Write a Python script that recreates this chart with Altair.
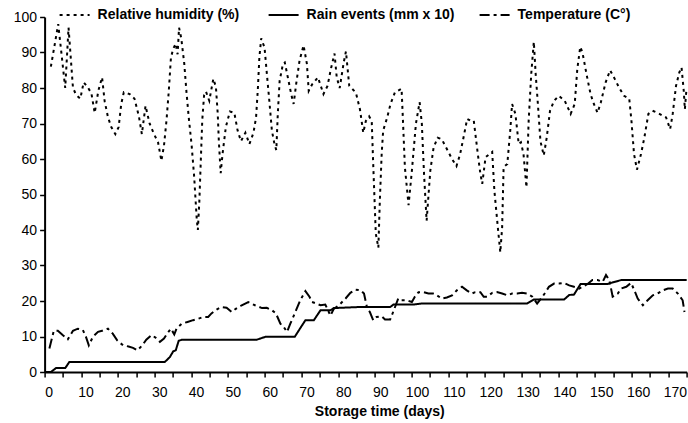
import altair as alt
import pandas as pd

# ---- data ----
rh_day = [0.6, 2.6, 4.5, 5.4, 6.6, 7.5, 8.6, 9.5, 10.5, 11.6, 12.5, 13.5, 14.5, 15.2, 16.1, 17, 18.1, 19, 19.7, 20.4,
          22, 23.3, 24.5, 25.3, 26.3, 27.4, 28.6, 29.7, 30.6, 31.3, 32, 32.6, 33.2, 33.8, 34.5, 35, 35.4, 36, 36.8, 37.4,
          38, 38.8, 39.5, 40.2, 40.5, 40.9, 41.3, 41.7, 42.2, 42.7, 43.6, 44.7, 45.4, 45.9, 46.2, 46.7, 47.2, 48.1, 49.2, 50.4,
          51.3, 52.2, 53.4, 54.5, 55.6, 56.3, 56.8, 57.2, 57.7, 58.6, 59.2, 59.9, 60.6, 61.3, 61.8, 62.2, 62.7, 63.6, 64.1, 65,
          65.9, 66.5, 67.2, 68.1, 69.2, 70.1, 70.6, 71.5, 73.1, 74.6, 75.7, 76.6, 77.6, 78.2, 79, 80.1, 80.7, 81.6, 83.4, 84.5,
          85.4, 86.1, 87, 87.7, 88.1, 88.8, 89.5, 89.9, 90.4, 90.8, 91.9, 92.8, 94, 95.8, 96.1, 96.7, 97.7, 98.6, 99.7, 100.7,
          101.3, 101.9, 102.6, 103.6, 104.5, 105.6, 106.7, 108.1, 109.5, 110.7, 111.7, 112.8, 113.6, 114.5, 115.4, 116.5, 117.2, 117.7, 118.6, 120.4,
          121, 122, 122.6, 123.1, 123.5, 124.5, 125.3, 125.8, 126.7, 127.6, 128.2, 128.9, 129.7, 130.3, 131, 131.7, 132.2, 132.8, 133.5, 134.4,
          135.2, 136.1, 137.2, 138.5, 140.1, 141.7, 142.8, 143.5, 144.3, 144.9, 146.1, 147.1, 148, 149, 149.9, 151.2, 152.4, 153.7, 154.9, 156.2,
          157.6, 158.2, 158.9, 159.7, 160.8, 161.7, 162.8, 163.9, 165.3, 166.7, 167.6, 168.7, 169.4, 170.3, 171.2, 171.8, 172.4, 172.7, 173.1]
rh_val = [86, 98, 80, 97, 80, 78, 77, 81.6, 80.4, 78.5, 73, 79.3, 83, 76.3, 71.8, 69, 67, 69, 75.5, 78.8,
          78.3, 77, 72, 67, 75, 70, 67, 64.7, 59.5, 63.7, 71, 79, 88.6, 91, 92.5, 89.5, 97, 94, 87, 79,
          72, 64, 55, 43, 40, 48, 59.5, 71, 78, 79, 76.4, 82.6, 80.3, 72.7, 65, 56, 61.4, 69, 73.4, 73,
          68, 65, 67.4, 64.2, 67.4, 71.7, 80, 88.6, 94, 91.4, 84.4, 76.4, 68, 64.2, 62.5, 72.7, 82, 86.8, 87.2, 82.6,
          78, 75.5, 81.2, 87.7, 92, 86.8, 79.2, 81, 83, 78.3, 80.6, 85.3, 89.7, 83, 80, 87.2, 90.3, 80.6, 78.7, 74,
          67.4, 70.7, 72, 70.7, 58.6, 39, 35, 48.3, 61.4, 68, 71.7, 75.5, 78.8, 79.8, 72.7, 57.7, 47, 56.7, 70, 76,
          70, 55.8, 42.6, 56.7, 63.3, 66, 65.6, 62.8, 60, 58, 61.4, 67, 71.3, 70.8, 70.8, 61.4, 55.8, 53, 60.5, 62,
          51, 40, 33.7, 40.7, 57.7, 58.6, 68, 75.5, 72.7, 64.2, 64.7, 61.4, 52, 70.8, 84, 93, 84, 75.5, 65, 61,
          66, 73.6, 76.4, 77.8, 76.4, 72.7, 75.5, 85.3, 91.6, 90, 83.4, 78.3, 75.5, 73, 76, 81.6, 85, 82.5, 80, 77.8,
          77, 70.8, 61.4, 57, 61.4, 66, 72.7, 73.6, 73, 72.2, 71.7, 68.4, 72.7, 80.6, 84.4, 85.8, 79.2, 74, 79.2]

rain_day = [-1, 0.6, 2, 4.5, 5.6, 31.5, 32.9, 33.8, 34.5, 35.3, 36.2, 56.5, 58.8, 66.8, 67.9, 69.7, 72, 73.8, 76.5, 77.4,
            84.2, 92.7, 93.6, 99, 101.3, 129.9, 131.7, 139.9, 141.3, 142.6, 144.4, 151.7, 155.4, 173.2]
rain_val = [0, 0, 1.1, 1.1, 2.8, 2.8, 4.2, 5.8, 6.1, 8.8, 9.1, 9.1, 9.9, 9.9, 11.7, 14.6, 14.6, 17.4, 17.4, 18,
            18.3, 18.3, 19, 19, 19.3, 19.3, 20.4, 20.4, 21.7, 21.8, 24.8, 24.8, 25.9, 25.9]

temp_day = [0.2, 1.4, 2.5, 3.8, 5.2, 6.6, 7.9, 9.3, 10.2, 10.9, 12, 13.4, 14.5, 16.1, 17.4, 18.6, 20.2, 21.7, 22.9, 24.1,
            25.4, 26.5, 27.9, 29, 30.2, 31.3, 32.3, 33.2, 34.1, 34.7, 36.1, 37.7, 39.2, 40.6, 42, 43.3, 44.2, 45.6, 46.9, 48.3,
            49.7, 50.8, 52.4, 54.2, 56, 57.9, 59.2, 60.6, 61.7, 62.9, 63.8, 64.7, 65.6, 66.8, 68.3, 69.7, 70.8, 71.5, 72.6, 73.8,
            75.1, 76.5, 77.4, 78.8, 80.6, 81.9, 83.3, 84.7, 85.6, 86.5, 87.2, 88.1, 89, 90.4, 91.3, 92.7, 93.7, 94.9, 95.8, 97.2,
            98.6, 99.4, 100.4, 101.7, 103.1, 104.4, 105.4, 106.7, 108.1, 109.5, 110.8, 112.2, 113.5, 114.9, 115.8, 117.2, 118.1, 119, 120.4, 121.7,
            123.1, 124.5, 125.8, 127.2, 128.5, 129.9, 131.3, 132.6, 133.7, 134.9, 135.8, 137.2, 138.5, 139.9, 141.3, 142.6, 144, 144.9, 146.3, 147.6,
            149, 150.4, 151.3, 152.2, 153.1, 154.5, 155.4, 156.8, 158.1, 159, 159.9, 161.3, 162.6, 164, 165.3, 166.7, 168.1, 169.4, 170.8, 172.1, 172.6]
temp_val = [6.6, 11.6, 11.6, 10.4, 9.2, 11.6, 12.2, 11.8, 9.7, 7.5, 9.9, 11.3, 11.6, 12.2, 10.8, 8.9, 7.5, 7.2, 6.8, 6.1,
            7.5, 9.1, 10.4, 9.7, 8.5, 9.4, 11, 12.2, 10.6, 12.2, 13.6, 14.1, 14.6, 15, 15.5, 15.5, 16.5, 17.6, 18.3, 18.1,
            16.9, 17.8, 18.8, 19.7, 18.8, 18, 18.1, 17.4, 16.5, 13.6, 12.7, 11.3, 13.6, 16.5, 20.2, 22.8, 21.2, 19.7, 19.3, 18.8,
            19, 15.9, 17.8, 18.8, 20.7, 22.3, 23.2, 23, 22.1, 17.8, 16.9, 14.6, 15.5, 15.7, 14.8, 14.8, 17.4, 20.7, 20.2, 20.2,
            19.7, 21.2, 22.5, 22.5, 22.1, 22.1, 21.6, 20.7, 21, 21.6, 23, 24, 23, 22.1, 22.5, 22.5, 21.2, 21.2, 22.3, 22.5,
            22.1, 21.6, 22.1, 22.1, 22.3, 22.1, 21.2, 19.3, 20.7, 22.5, 24, 24.9, 24.9, 25.1, 24.4, 24, 23.5, 24, 24.8, 25.9,
            25.9, 25.4, 27.3, 25.9, 21.2, 22.1, 23.5, 24, 25.1, 23, 20.7, 18.8, 20.2, 21.6, 22.1, 23, 23.5, 23.5, 22.1, 20.2, 16.9]

series_names = ["Relative humidity  (%)", "Rain events (mm x 10)", "Temperature (C°)"]
x_labels = list(range(0, 171, 10))
y_labels = list(range(0, 101, 10))

rows = []
for name, days, vals in zip(series_names, [rh_day, rain_day, temp_day], [rh_val, rain_val, temp_val]):
    for d, v in zip(days, vals):
        rows.append({"day": d, "value": v, "series": name})
df = pd.DataFrame(rows)

x_domain = [-1.1, 173.2]
tick_vals = [round(-1.1 + k * (174.3 / 35), 3) for k in range(36)]
FONT = "Liberation Sans"

xscale = alt.Scale(domain=x_domain, nice=False, zero=False)

lines = alt.Chart(df).mark_line(color="black", strokeWidth=2, strokeCap="butt").encode(
    x=alt.X("day:Q", scale=xscale,
            axis=alt.Axis(orient="bottom", values=x_labels, ticks=False, tickSize=0, grid=False,
                          domainColor="black", domainWidth=2,
                          labelFont=FONT, labelFontSize=14, labelColor="black", labelPadding=13,
                          labelFlush=False, labelOverlap=False,
                          title="Storage time (days)", titleFont=FONT, titleFontSize=14,
                          titleFontWeight="bold", titleColor="black",
                          titleX=334.7, titleY=43.5, titleBaseline="alphabetic", titleAnchor="middle")),
    y=alt.Y("value:Q", scale=alt.Scale(domain=[0, 100], nice=False),
            axis=alt.Axis(values=y_labels, grid=False, tickSize=5, tickColor="black", tickWidth=1.5,
                          domainColor="black", domainWidth=2,
                          labelFont=FONT, labelFontSize=14, labelColor="black", labelPadding=3,
                          title=None)),
    strokeDash=alt.StrokeDash("series:N",
                              scale=alt.Scale(domain=series_names, range=[[3, 4], [1, 0], [10, 4, 3, 4]]),
                              legend=alt.Legend(orient="none", legendX=14.0, legendY=-18,
                                                direction="horizontal", title=None,
                                                symbolType="stroke", symbolSize=900, symbolStrokeWidth=2,
                                                symbolStrokeColor="black",
                                                labelFont=FONT, labelFontSize=14, labelFontWeight="bold",
                                                labelColor="black", labelOffset=7, columnPadding=21,
                                                padding=0, labelLimit=400)),
)

ticks = alt.Chart(df).mark_point(opacity=0).encode(
    x=alt.X("day:Q", scale=xscale,
            axis=alt.Axis(orient="bottom", values=tick_vals, labels=False, domain=False, ticks=True,
                          tickSize=5, tickColor="black", tickWidth=1.5, grid=False, title=None)),
)

chart = alt.layer(lines, ticks).resolve_axis(x="independent").properties(
    width=642.1, height=355,
    autosize=alt.AutoSizeParams(type="none"),
    padding={"left": 44.6, "top": 17, "right": 1.3, "bottom": 51},
    background="white",
).configure_view(stroke=None)

chart.save("out.html", embed_options={"renderer": "svg", "actions": False})
